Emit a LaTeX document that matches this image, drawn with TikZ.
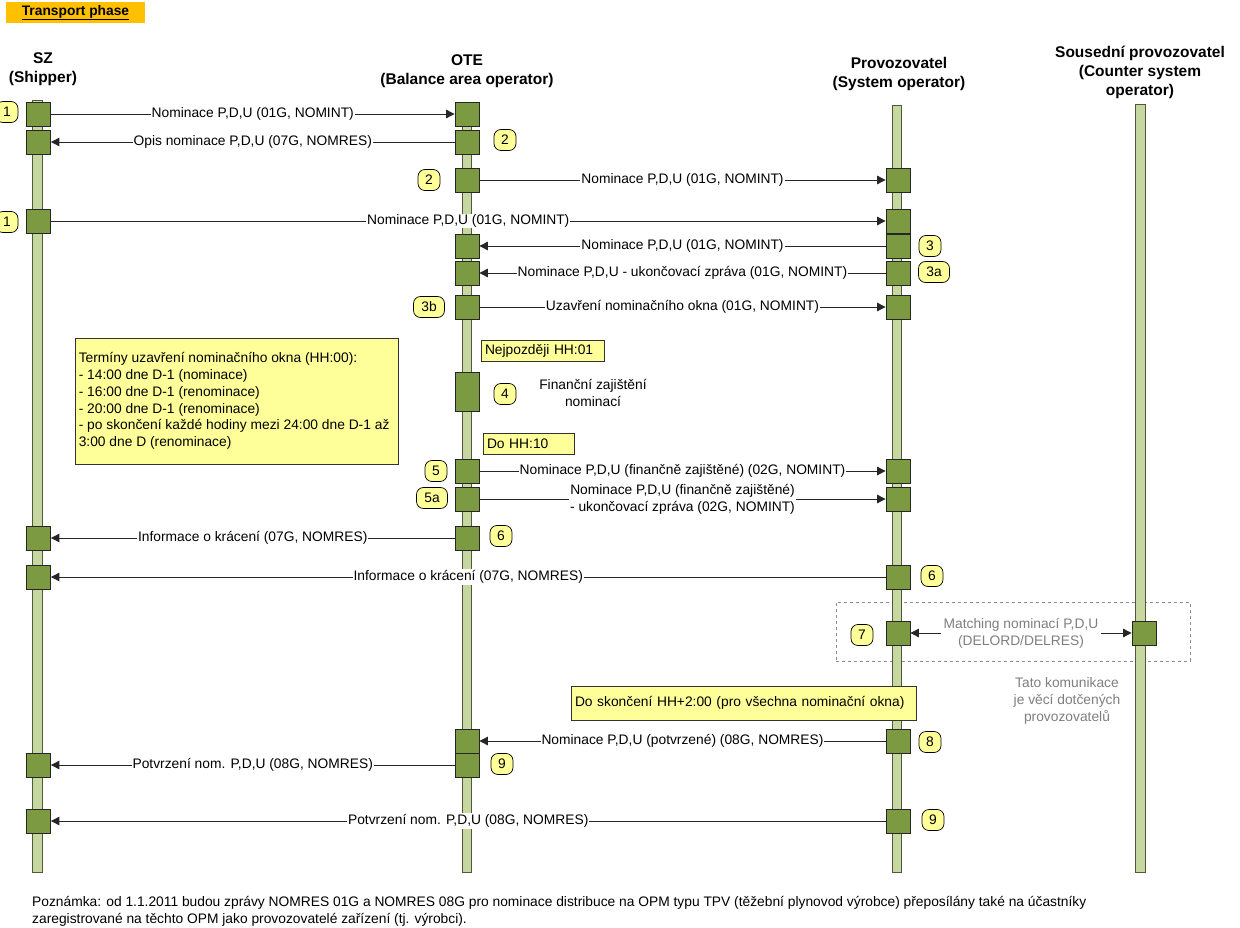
\documentclass[tikz,border=0pt]{standalone}
\usepackage{fontspec}
\setmainfont{Liberation Sans}
\usetikzlibrary{arrows.meta}
\definecolor{actF}{HTML}{7B9A42}
\definecolor{lifeF}{HTML}{C6D8A0}
\definecolor{lifeD}{HTML}{50573F}
\definecolor{noteF}{HTML}{FFFF99}
\definecolor{orangeF}{HTML}{FFC000}
\definecolor{grayT}{HTML}{7F7F7F}
\newcommand\flbl{\fontsize{13.8}{16.8}\selectfont}
\newcommand\fhdr{\bfseries\fontsize{15.5}{19}\selectfont}
\begin{document}
\begin{tikzpicture}[x=1pt,y=-1pt,
  life/.style={draw=lifeD, fill=lifeF, line width=0.7pt, minimum width=9.5pt, inner sep=0pt, anchor=north},
  act/.style={draw=black!85, fill=actF, minimum width=24pt, minimum height=24pt, inner sep=0pt, line width=0.8pt},
  badge/.style={draw=black, fill=noteF, rounded corners=7pt, minimum width=22pt, minimum height=21pt, inner sep=0pt, font=\flbl, line width=0.7pt},
  wbadge/.style={badge, minimum width=31pt},
  msg/.style={draw=black!85, line width=0.9pt, -{Triangle[length=8.5pt,width=8.5pt]}},
  msgb/.style={draw=black!85, line width=0.9pt, {Triangle[length=8.5pt,width=8.5pt]}-{Triangle[length=8.5pt,width=8.5pt]}},
  lab/.style={fill=white, inner xsep=1pt, inner ysep=1pt, font=\flbl},
  note/.style={draw=black!80, fill=noteF, font=\flbl, align=left, inner xsep=4pt, inner ysep=0pt, line width=0.8pt},
  hdr/.style={font=\fhdr, align=center, inner sep=0pt},
  plain/.style={font=\flbl, align=center, inner sep=0pt}]
\useasboundingbox[fill=white] (0,0) rectangle (1240,928);

% title
\node[fill=orangeF, minimum width=139pt, minimum height=21pt, inner sep=0pt, font=\bfseries\flbl] (title) at (75.5,12.5) {\underline{Transport phase}};

% headers
\node[hdr] (hSZ) at (43,69.5) {SZ\\(Shipper)};
\node[hdr] (hOTE) at (467,71.5) {OTE\\(Balance area operator)};
\node[hdr] (hProv) at (899,73.5) {Provozovatel\\(System operator)};
\node[hdr] (hSous) at (1140,72) {Sousední provozovatel\\(Counter system\\operator)};

% dashed frame
\node[draw=grayT!90, dashed, line width=0.7pt, minimum width=354pt, minimum height=59pt, inner sep=0pt] (dBox) at (1013,631.5) {};

% lifelines
\node[life, minimum height=772pt] (lSZ) at (37.5,100) {};
\node[life, minimum height=769pt] (lOTE) at (467,103) {};
\node[life, minimum height=767pt] (lProv) at (897,105) {};
\node[life, minimum height=768pt] (lSous) at (1140.5,104) {};

% activation boxes SZ
\node[act] (a1) at (38.5,114) {};
\node[act] (a2) at (38.5,142) {};
\node[act] (a4) at (38.5,221) {};
\node[act] (a10) at (38.5,538) {};
\node[act] (a11) at (38.5,577) {};
\node[act] (a14) at (38.5,765) {};
\node[act] (a15) at (38.5,821) {};
% OTE
\node[act] (o1) at (467,114) {};
\node[act] (o2) at (467,142) {};
\node[act] (o3) at (467,180) {};
\node[act] (o5) at (467,246) {};
\node[act] (o6) at (467,273) {};
\node[act] (o7) at (467,307) {};
\node[act, minimum height=39pt] (o4) at (467,392) {};
\node[act] (o8) at (467,471) {};
\node[act] (o9) at (467,499) {};
\node[act] (o10) at (467,538) {};
\node[act] (o13) at (467,741) {};
\node[act] (o14) at (467,765) {};
% Provozovatel
\node[act] (p3) at (898,180) {};
\node[act] (p4) at (898,221) {};
\node[act] (p5) at (898,246) {};
\node[act] (p6) at (898,273) {};
\node[act] (p7) at (898,307) {};
\node[act] (p8) at (898,471) {};
\node[act] (p9) at (898,499) {};
\node[act] (p11) at (898,577) {};
\node[act] (p12) at (898,633) {};
\node[act] (p13) at (898,741) {};
\node[act] (p15) at (898,821) {};
% Sousedni
\node[act] (s12) at (1144,633) {};

% messages
\draw[msg] (a1) -- node[lab] (m1) {Nominace P,D,U (01G, NOMINT)} (o1);
\draw[msg] (o2) -- node[lab] (m2) {Opis nominace P,D,U (07G, NOMRES)} (a2);
\draw[msg] (o3) -- node[lab] (m3) {Nominace P,D,U (01G, NOMINT)} (p3);
\draw[msg] (a4) -- node[lab] (m4) {Nominace P,D,U (01G, NOMINT)} (p4);
\draw[msg] (p5) -- node[lab] (m5) {Nominace P,D,U (01G, NOMINT)} (o5);
\draw[msg] (p6) -- node[lab] (m6) {Nominace P,D,U - ukončovací zpráva (01G, NOMINT)} (o6);
\draw[msg] (o7) -- node[lab] (m7) {Uzavření nominačního okna (01G, NOMINT)} (p7);
\draw[msg] (o8) -- node[lab] (m8) {Nominace P,D,U (finančně zajištěné) (02G, NOMINT)} (p8);
\draw[msg] (o9) -- node[lab, align=center] (m9) {Nominace P,D,U (finančně zajištěné)\\- ukončovací zpráva (02G, NOMINT)} (p9);
\draw[msg] (o10) -- node[lab] (m10) {Informace o krácení (07G, NOMRES)} (a10);
\draw[msg] (p11) -- node[lab] (m11) {Informace o krácení (07G, NOMRES)} (a11);
\draw[msgb] (p12) -- node[lab, align=center, text=grayT, inner xsep=3pt] (m12) {Matching nominací P,D,U\\(DELORD/DELRES)} (s12);
\draw[msg] (p13) -- node[lab] (m13) {Nominace P,D,U (potvrzené) (08G, NOMRES)} (o13);
\draw[msg] (o14) -- node[lab] (m14) {Potvrzení nom. P,D,U (08G, NOMRES)} (a14);
\draw[msg] (p15) -- node[lab] (m15) {Potvrzení nom. P,D,U (08G, NOMRES)} (a15);

% badges
\node[badge] (n1a) at (7,112) {1};
\node[badge] (n2a) at (505,140) {2};
\node[badge] (n2b) at (429,180) {2};
\node[badge] (n1b) at (7,222) {1};
\node[badge] (n3) at (930,246) {3};
\node[wbadge] (n3a) at (934,272) {3a};
\node[wbadge] (n3b) at (429,307) {3b};
\node[badge] (n4) at (505,394) {4};
\node[badge] (n5) at (436,471) {5};
\node[wbadge] (n5a) at (432,498) {5a};
\node[badge] (n6a) at (501,536) {6};
\node[badge] (n6b) at (932,576) {6};
\node[badge] (n7) at (862,635) {7};
\node[badge] (n8) at (930,742) {8};
\node[badge] (n9a) at (502,764) {9};
\node[badge] (n9b) at (933,820) {9};

% notes
\node[note, minimum width=323pt, minimum height=126pt] (nBig) at (236.5,401) {};
\node[plain, align=left, anchor=west] (nBigT) at ([xshift=4pt]nBig.west) {Termíny uzavření nominačního okna (HH:00):\\- 14:00 dne D-1 (nominace)\\- 16:00 dne D-1 (renominace)\\- 20:00 dne D-1 (renominace)\\- po skončení každé hodiny mezi 24:00 dne D-1 až\\3:00 dne D (renominace)};
\node[note, minimum height=21pt, text width=115pt] (nHH01) at (542.5,350.5) {Nejpozději HH:01};
\node[note, minimum height=21pt, text width=83pt] (nHH10) at (528.5,443.5) {Do HH:10};
\node[note, minimum height=34pt, text width=337pt] (nHH2) at (743.5,703) {Do skončení HH+2:00 (pro všechna nominační okna)};

% free texts
\node[plain] (tFin) at (593,393) {Finanční zajištění\\nominací};
\node[plain, text=grayT] (tTato) at (1067,701) {Tato komunikace\\je věcí dotčených\\provozovatelů};
\node[plain, align=left, anchor=west] (foot) at (32,911.5) {Poznámka: od 1.1.2011 budou zprávy NOMRES 01G a NOMRES 08G pro nominace distribuce na OPM typu TPV (těžební plynovod výrobce) přeposílány také na účastníky\\zaregistrované na těchto OPM jako provozovatelé zařízení (tj. výrobci).};
\end{tikzpicture}
\end{document}
